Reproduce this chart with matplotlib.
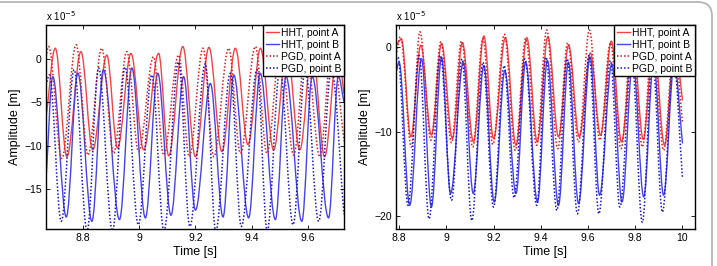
import numpy as np
import matplotlib
matplotlib.use("Agg")
import matplotlib.pyplot as plt
from matplotlib.patches import FancyBboxPatch, PathPatch
from matplotlib.path import Path
from matplotlib.lines import Line2D
from matplotlib.ticker import FixedLocator, FuncFormatter

plt.rcParams['font.family'] = ['Liberation Sans', 'DejaVu Sans']

# -----------------------------
# DATA (amplitudes in units of 1e-5 m), extrema
# -----------------------------
# Left panel
L_hht_a_t = [8.669, 8.702, 8.743, 8.793, 8.835, 8.885, 8.923, 8.971, 9.016, 9.069, 9.105, 9.155, 9.200,
             9.248, 9.294, 9.342, 9.387, 9.431, 9.478, 9.525, 9.571, 9.615, 9.659, 9.705, 9.728]
L_hht_a_v = [-6.8, 1.3, -11.3, 0.9, -10.5, 0.5, -10.3, 0.7, -10.5, 0.7, -11.2, 1.5, -11.3,
             1.4, -10.7, 1.3, -9.9, 1.3, -10.5, 1.2, -10.5, 1.2, -11.3, 1.2, -4.0]

L_hht_b_t = [8.669, 8.693, 8.741, 8.782, 8.832, 8.873, 8.930, 8.974, 9.022, 9.066, 9.113, 9.158, 9.200,
             9.253, 9.298, 9.336, 9.389, 9.430, 9.484, 9.522, 9.578, 9.615, 9.673, 9.708, 9.728]
L_hht_b_v = [-14.0, -2.0, -18.3, -1.6, -18.8, -1.2, -18.6, -1.0, -18.4, -1.6, -18.1, -2.0, -17.5,
             -2.8, -18.3, -1.8, -18.4, -1.6, -18.6, -2.0, -18.8, -2.0, -18.4, -2.0, -5.0]

L_pgd_a_t = [8.669, 8.678, 8.725, 8.776, 8.818, 8.867, 8.909, 8.956, 8.998, 9.051, 9.087, 9.140, 9.178,
             9.227, 9.265, 9.318, 9.360, 9.413, 9.454, 9.502, 9.549, 9.593, 9.642, 9.685, 9.728]
L_pgd_a_v = [0.3, 1.5, -11.5, 1.7, -11.1, 1.3, -10.9, 0.9, -10.7, 0.3, -11.1, 0.5, -11.3,
             1.3, -11.3, 1.3, -10.9, 1.5, -10.9, 1.4, -11.1, 1.4, -11.3, 1.4, -9.5]

L_pgd_b_t = [8.669, 8.681, 8.723, 8.769, 8.815, 8.856, 8.905, 8.950, 8.997, 9.045, 9.088, 9.140, 9.180,
             9.235, 9.272, 9.324, 9.363, 9.419, 9.455, 9.500, 9.547, 9.590, 9.638, 9.683, 9.728]
L_pgd_b_v = [-3.0, -1.8, -18.8, -1.2, -19.9, -1.0, -19.9, -0.9, -19.2, -1.8, -19.9, -0.3, -19.4,
             -0.5, -19.9, -1.6, -19.4, -1.2, -19.9, -1.2, -19.2, -1.2, -18.8, -1.2, -18.0]

# Right panel
R_hht_a_t = [8.787, 8.810, 8.850, 8.892, 8.937, 8.980, 9.026, 9.068, 9.115, 9.159, 9.200, 9.250, 9.295,
             9.341, 9.385, 9.430, 9.475, 9.518, 9.563, 9.610, 9.653, 9.699, 9.742, 9.790, 9.834,
             9.878, 9.924, 9.968, 10.000]
R_hht_a_v = [0.2, 0.9, -10.6, 0.2, -10.4, 0.4, -10.8, 0.5, -11.2, 1.3, -10.8, 1.1, -11.6,
             1.1, -11.2, 1.2, -10.6, 0.2, -10.6, -0.7, -10.4, 0.7, -11.2, 0.8, -10.9,
             0.8, -11.6, 0.5, -6.3]

R_hht_b_t = [8.787, 8.800, 8.845, 8.895, 8.937, 8.980, 9.018, 9.072, 9.114, 9.159, 9.203, 9.248, 9.295,
             9.336, 9.386, 9.428, 9.475, 9.517, 9.560, 9.609, 9.649, 9.701, 9.744, 9.790, 9.836,
             9.878, 9.920, 9.965, 10.000]
R_hht_b_v = [-3.0, -1.8, -18.7, -1.4, -18.9, -1.2, -17.3, -1.8, -17.3, -2.2, -18.3, -2.8, -17.3,
             -1.8, -18.3, -1.6, -18.7, -1.8, -18.5, -1.2, -17.5, -2.0, -18.3, -1.6, -17.7,
             -1.6, -17.5, -2.0, -11.4]

R_pgd_a_t = [8.787, 8.806, 8.852, 8.888, 8.935, 8.977, 9.022, 9.064, 9.112, 9.155, 9.197, 9.246, 9.292,
             9.336, 9.382, 9.425, 9.472, 9.514, 9.560, 9.606, 9.650, 9.695, 9.740, 9.786, 9.830,
             9.874, 9.920, 9.965, 10.000]
R_pgd_a_v = [-1.0, 1.2, -11.8, 1.8, -11.0, 0.6, -11.3, 0.7, -11.8, 1.0, -11.5, 1.5, -12.2,
             1.0, -11.6, 2.0, -12.0, 0.5, -11.2, 2.0, -11.0, 0.5, -12.0, 1.2, -11.8,
             1.2, -12.2, 0.5, -9.0]

R_pgd_b_t = [8.787, 8.795, 8.838, 8.885, 8.927, 8.975, 9.022, 9.066, 9.108, 9.155, 9.200, 9.245, 9.287,
             9.333, 9.383, 9.422, 9.468, 9.512, 9.555, 9.605, 9.646, 9.695, 9.735, 9.785, 9.830,
             9.873, 9.915, 9.962, 10.000]
R_pgd_b_v = [-1.5, -1.2, -18.7, -1.0, -20.3, -1.0, -18.1, -1.4, -20.5, -1.8, -18.9, -2.2, -17.8,
             -1.4, -18.7, -1.2, -19.3, -1.4, -19.7, -1.0, -19.7, -1.6, -18.9, -1.2, -20.7,
             -1.2, -19.5, -1.6, -15.5]

LABELS = ["HHT, point A", "HHT, point B", "PGD, point A", "PGD, point B"]

L_xticks = [8.8, 9.0, 9.2, 9.4, 9.6]
L_yticks = [0, -5, -10, -15]
R_xticks = [8.8, 9.0, 9.2, 9.4, 9.6, 9.8, 10.0]
R_yticks = [0, -10, -20]

# -----------------------------
# PLOT
# -----------------------------
RED_S, BLUE_S = "#f24444", "#4444ea"
RED_D, BLUE_D = "#e01a1a", "#1414cc"
DOT = (0, (1.0, 1.3))


def smooth_path(t, v, k=0.36):
    # cubic bezier through the extrema, flat tangent at each extremum
    verts = [(t[0], v[0])]
    codes = [Path.MOVETO]
    n = len(t)
    for i in range(n - 1):
        dt = t[i + 1] - t[i]
        if i == 0:
            c1 = (t[i] + k * dt, v[i] + k * (v[i + 1] - v[i]))
        else:
            c1 = (t[i] + k * dt, v[i])
        if i + 1 == n - 1:
            c2 = (t[i + 1] - k * dt, v[i + 1] - k * (v[i + 1] - v[i]))
        else:
            c2 = (t[i + 1] - k * dt, v[i + 1])
        verts += [c1, c2, (t[i + 1], v[i + 1])]
        codes += [Path.CURVE4] * 3
    return Path(verts, codes)


fig = plt.figure(figsize=(7.17, 2.66), dpi=100)
fig.patch.set_facecolor("white")

# rounded grey frame around the figure (cropped on left/bottom)
frame = FancyBboxPatch((-0.5, -0.5), 7.62, 3.14, boxstyle="round,pad=0,rounding_size=0.14",
                       transform=fig.dpi_scale_trans, fc="none", ec="#b5b5b5", lw=1.3, clip_on=False)
fig.add_artist(frame)

fmt = FuncFormatter(lambda v, p: "%g" % v if v >= 0 else "\u2212%g" % (-v))

panels = [
    ([0.0642, 0.139, 0.4156, 0.767], (8.669, 9.728), (-19.7, 4.0), L_xticks, L_yticks,
     (L_hht_a_t, L_hht_a_v), (L_hht_b_t, L_hht_b_v), (L_pgd_a_t, L_pgd_a_v), (L_pgd_b_t, L_pgd_b_v)),
    ([0.5523, 0.139, 0.417, 0.767], (8.787, 10.053), (-21.5, 2.6), R_xticks, R_yticks,
     (R_hht_a_t, R_hht_a_v), (R_hht_b_t, R_hht_b_v), (R_pgd_a_t, R_pgd_a_v), (R_pgd_b_t, R_pgd_b_v)),
]

styles = [(RED_S, "-", 1.0), (BLUE_S, "-", 1.0), (RED_D, DOT, 1.1), (BLUE_D, DOT, 1.1)]

for rect, xl, yl, xt, yt, *series in panels:
    ax = fig.add_axes(rect)
    handles = []
    for (t, v), (col, ls, lw), lab in zip(series, styles, LABELS):
        ax.add_patch(PathPatch(smooth_path(t, v), fill=False, ec=col, ls=ls, lw=lw))
        handles.append(Line2D([], [], color=col, ls=ls, lw=lw, label=lab))
    ax.set_xlim(*xl)
    ax.set_ylim(*yl)
    ax.xaxis.set_major_locator(FixedLocator(xt))
    ax.yaxis.set_major_locator(FixedLocator(yt))
    ax.xaxis.set_major_formatter(fmt)
    ax.yaxis.set_major_formatter(fmt)
    ax.tick_params(direction="in", top=True, right=True, length=3, width=0.6,
                   labelsize=7.5, pad=3)
    for s in ax.spines.values():
        s.set_linewidth(1.0)
    ax.set_xlabel("Time [s]", fontsize=9, labelpad=2)
    ax.set_ylabel("Amplitude [m]", fontsize=9, labelpad=2)
    ax.text(0.0, 1.008, "x 10$^{\u22125}$", transform=ax.transAxes, fontsize=7,
            ha="left", va="bottom")
    leg = ax.legend(handles=handles, loc="upper right", fontsize=7.5, handlelength=1.3,
                    handletextpad=0.15, borderpad=0.25, labelspacing=0.2, borderaxespad=0.0,
                    fancybox=False, framealpha=1.0, edgecolor="black")
    leg.get_frame().set_linewidth(1.0)

fig.savefig("out.png", dpi=100)
